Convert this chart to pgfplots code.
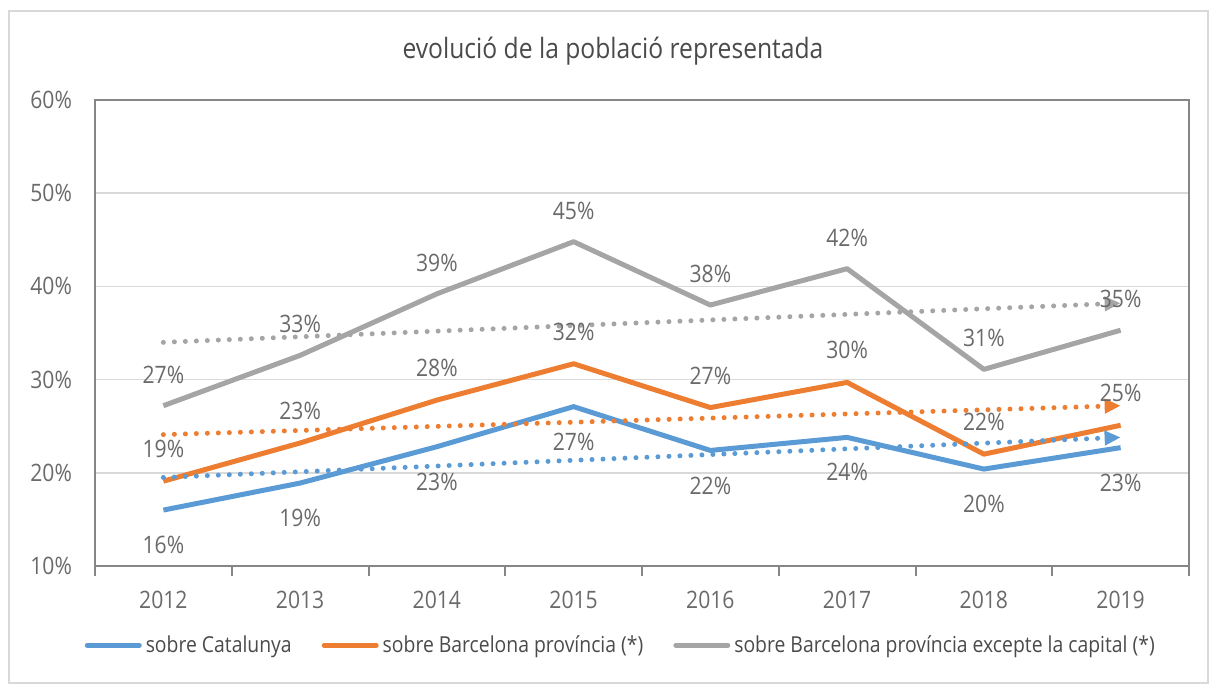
\documentclass[border=0pt]{standalone}
\usepackage{fontspec}
\setmainfont{Open Sans}[FakeStretch=0.88]
\usepackage{pgfplots}
\pgfplotsset{compat=1.18}
\usetikzlibrary{arrows.meta}
\definecolor{cblue}{HTML}{5B9BD5}
\definecolor{corange}{HTML}{ED7D31}
\definecolor{cgray}{HTML}{A5A5A5}
\definecolor{txt}{HTML}{6A6A6A}
\definecolor{legtxt}{HTML}{4A4A4A}
\definecolor{axisgray}{HTML}{868686}
\definecolor{gridgray}{HTML}{D9D9D9}

\begin{document}
\begin{tikzpicture}
\path[use as bounding box] (-47.5pt,-60.5pt) rectangle (560.5pt,283pt);
\draw[gridgray, line width=0.75pt] (-43pt,-58.5pt) rectangle (556.5pt,277.5pt);
\begin{axis}[
  at={(0,0)}, anchor=south west,
  scale only axis, width=547pt, height=233pt,
  xmin=-0.5, xmax=7.5, ymin=10, ymax=60,
  /pgf/number format/assume math mode=true,
  xtick={0,...,7},
  xticklabels={2012,2013,2014,2015,2016,2017,2018,2019},
  minor xtick={-0.5,0.5,...,7.5},
  ytick={10,20,...,60},
  yticklabel={\pgfmathprintnumber{\tick}\%},
  xtick pos=bottom, ytick pos=left,
  tick align=outside,
  major tick length=0pt, minor tick length=5pt,
  minor x tick style={axisgray, line width=1pt},
  axis line style={axisgray, line width=1pt},
  ymajorgrids, grid style={gridgray, line width=0.75pt},
  ticklabel style={font=\fontsize{12}{14}\selectfont, text=txt},
  xticklabel style={yshift=-9pt},
  yticklabel style={xshift=-8pt},
  title={evolució de la població representada},
  title style={at={(0.4735,1)}, anchor=center, yshift=18.5pt,
    font=\fontsize{14}{17}\selectfont, text=legtxt},
  legend style={draw=none, fill=none, legend columns=3,
    at={(0.4815,-0.17)}, anchor=center,
    font=\fontsize{11}{13}\selectfont, text=legtxt,
    /tikz/every even column/.append style={column sep=13pt}},
  legend image code/.code={\draw[#1, line width=2.5pt, line cap=round] (0pt,0pt) -- (26pt,0pt);},
]
% sobre Catalunya
\addplot[cblue, line width=2.5pt, line join=round,
  nodes near coords={\pgfmathprintnumber[fixed,precision=0]{\pgfplotspointmeta}\%},
  every node near coord/.append style={text=txt, anchor=center, yshift=-17.5pt,
    font=\fontsize{12}{14}\selectfont}]
  coordinates {(0,16.0) (1,18.9) (2,22.8) (3,27.1) (4,22.4) (5,23.8) (6,20.4) (7,22.7)};
% sobre Barcelona provincia
\addplot[corange, line width=2.5pt, line join=round,
  nodes near coords={\pgfmathprintnumber[fixed,precision=0]{\pgfplotspointmeta}\%},
  every node near coord/.append style={text=txt, anchor=center, yshift=16pt,
    font=\fontsize{12}{14}\selectfont}]
  coordinates {(0,19.1) (1,23.2) (2,27.8) (3,31.7) (4,27.0) (5,29.7) (6,22.0) (7,25.1)};
% sobre Barcelona provincia excepte la capital
\addplot[cgray, line width=2.5pt, line join=round,
  nodes near coords={\pgfmathprintnumber[fixed,precision=0]{\pgfplotspointmeta}\%},
  every node near coord/.append style={text=txt, anchor=center, yshift=15.5pt,
    font=\fontsize{12}{14}\selectfont}]
  coordinates {(0,27.2) (1,32.6) (2,39.2) (3,44.8) (4,38.0) (5,41.9) (6,31.1) (7,35.3)};
% linear trends (dotted)
\addplot[cblue, line width=2.5pt, line cap=round, dash pattern=on 0pt off 5.5pt,
  -{Triangle[length=8pt,width=7pt]}, forget plot]
  coordinates {(0,19.5) (7,23.8)};
\addplot[corange, line width=2.5pt, line cap=round, dash pattern=on 0pt off 5.5pt,
  -{Triangle[length=8pt,width=7pt]}, forget plot]
  coordinates {(0,24.1) (7,27.2)};
\addplot[cgray, line width=2.5pt, line cap=round, dash pattern=on 0pt off 5.5pt,
  -{Triangle[length=8pt,width=7pt]}, forget plot]
  coordinates {(0,34.0) (7,38.2)};
\legend{sobre Catalunya, sobre Barcelona província (*), sobre Barcelona província excepte la capital (*)}
\end{axis}
\end{tikzpicture}
\end{document}
